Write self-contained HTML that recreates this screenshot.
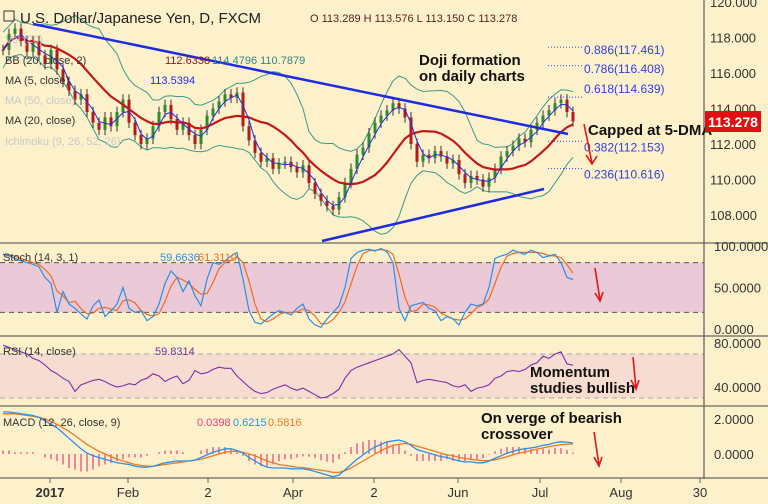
<!DOCTYPE html>
<html><head><meta charset="utf-8">
<style>
body{margin:0;background:#fff;}
svg{display:block;font-family:"Liberation Sans",sans-serif;}
</style></head><body>
<svg id="c" width="768" height="504" viewBox="0 0 768 504" xmlns="http://www.w3.org/2000/svg">
<rect x="0" y="0" width="768" height="504" fill="#fdf1cb"/>
<g id="bands"></g>
<g id="grid"></g>
<g id="marks"></g>
<g id="ann"></g>
</svg>
<script>
const closes=[117.3,118.2,118.5,117.8,117.2,117.8,117.0,116.5,117.3,116.2,
115.5,115.0,114.5,114.8,113.8,113.2,112.8,113.5,113.0,113.8,
114.5,113.2,112.5,112.0,112.3,113.0,113.8,114.2,113.4,112.8,
113.2,112.5,112.0,112.8,113.6,114.0,114.4,114.8,114.6,114.9,
113.0,112.2,111.5,111.0,111.2,110.6,110.9,111.0,110.7,110.4,
110.8,109.8,109.2,108.8,108.5,108.3,109.0,109.8,110.6,111.4,
111.8,112.6,113.2,113.6,113.9,114.3,114.0,113.5,112.0,111.0,
111.4,111.2,111.6,111.3,110.9,111.1,110.3,109.8,110.2,110.0,
109.6,110.1,110.6,111.3,111.6,111.9,112.3,112.1,112.8,113.2,
113.6,113.9,114.3,114.5,113.8,113.278];
const stochK=[90,88,85,82,80,78,75,62,55,20,45,30,25,18,12,28,35,15,22,30,
50,25,20,22,10,15,30,55,70,62,45,58,40,28,60,80,78,82,88,92,
60,22,8,6,12,18,22,20,17,25,30,12,5,2,12,20,28,50,85,92,
95,96,94,97,93,80,25,10,28,30,32,25,22,10,15,12,5,20,30,28,
30,50,85,88,90,95,92,90,95,92,86,88,90,80,62,59.66];
const rsi=[78,76,74,72,70,66,64,60,55,52,48,45,36,42,44,46,47,45,42,40,
41,43,42,46,48,52,50,45,48,50,43,46,55,52,53,56,58,57,57,50,
45,40,36,34,35,38,40,42,39,37,39,36,33,30,31,34,38,48,55,58,
60,62,64,66,68,70,74,68,62,44,46,47,46,45,44,41,40,42,36,39,
40,42,48,50,54,55,54,56,60,62,68,66,70,72,61,59.83];
const macd=[2.4,2.4,2.35,2.3,2.25,2.2,2.1,1.9,1.7,1.5,1.2,0.9,0.6,0.3,0.05,-0.1,-0.2,-0.3,-0.4,-0.5,
-0.55,-0.6,-0.7,-0.75,-0.75,-0.7,-0.6,-0.5,-0.45,-0.4,-0.4,-0.4,-0.35,-0.2,-0.05,0.1,0.2,0.3,0.3,0.2,
0.05,-0.2,-0.4,-0.6,-0.75,-0.8,-0.8,-0.8,-0.85,-0.85,-0.85,-0.9,-1.0,-1.1,-1.2,-1.3,-1.2,-0.9,-0.6,-0.3,
-0.05,0.2,0.4,0.55,0.7,0.75,0.8,0.7,0.5,0.25,0.15,0.05,-0.05,-0.15,-0.2,-0.3,-0.4,-0.45,-0.45,-0.5,
-0.5,-0.4,-0.25,-0.1,0.05,0.15,0.25,0.3,0.35,0.4,0.5,0.55,0.65,0.7,0.68,0.62];
const signal=[2.3,2.3,2.3,2.25,2.2,2.15,2.1,2.0,1.85,1.7,1.5,1.3,1.05,0.8,0.55,0.35,0.15,0.0,-0.15,-0.3,
-0.4,-0.5,-0.6,-0.65,-0.7,-0.7,-0.65,-0.6,-0.55,-0.5,-0.45,-0.4,-0.35,-0.3,-0.2,-0.1,0.0,0.1,0.15,0.15,
0.1,0.0,-0.1,-0.25,-0.4,-0.5,-0.6,-0.65,-0.7,-0.75,-0.78,-0.82,-0.88,-0.92,-0.98,-1.05,-1.05,-0.95,-0.8,-0.6,
-0.4,-0.2,0.0,0.2,0.35,0.5,0.55,0.6,0.55,0.45,0.35,0.25,0.15,0.05,-0.05,-0.1,-0.2,-0.25,-0.3,-0.35,
-0.38,-0.38,-0.33,-0.25,-0.15,-0.05,0.05,0.12,0.2,0.28,0.35,0.42,0.48,0.53,0.56,0.58];
const priceTicks=[120,118,116,114,112,110,108];
const dateLabels=["2017","Feb","2","Apr","2","Jun","Jul","Aug","30"];
const dateIdx=[7.83,20.83,34.17,48.33,61.83,75.83,89.5,103,116.17];
const fibLevels=[117.461,116.408,114.639,112.153,110.616];
const fibNames=["0.886","0.786","0.618","0.382","0.236"];

const NS="http://www.w3.org/2000/svg";
const X=i=>3+6*i;
const YP=p=>2+(120-p)*17.75;
const YS=v=>329-v*0.83;
const YR=v=>343+(80-v)*1.1;
const YM=v=>454-v*17.5;
function mk(parent,tag,attrs,text){const e=document.createElementNS(NS,tag);for(const k in attrs)e.setAttribute(k,attrs[k]);if(text!==undefined)e.textContent=text;document.getElementById(parent).appendChild(e);return e;}
function poly(arr,fy){return arr.map((v,i)=>X(i).toFixed(1)+","+fy(v).toFixed(1)).join(" ");}

// bands and pane separators
let e;
e=mk('bands','rect',{x:0,y:YS(80),width:704,height:YS(20)-YS(80),fill:'#ecc9d6'});


e=mk('bands','rect',{x:0,y:YR(70),width:704,height:YR(30)-YR(70),fill:'#f7dcd2'});


[[80,YS],[20,YS]].forEach(([v,f])=>{e=mk('bands','line',{x1:0,x2:704,y1:f(v),y2:f(v),stroke:'#555',"stroke-dasharray":"5,4"});

});
[[70,YR],[30,YR]].forEach(([v,f])=>{e=mk('bands','line',{x1:0,x2:704,y1:f(v),y2:f(v),stroke:'#aaa',"stroke-dasharray":"5,4"});

});
[243,336,406,478].forEach(y=>{e=mk('grid','line',{x1:0,x2:768,y1:y,y2:y,stroke:'#666','stroke-width':1.3});

});
e=mk('grid','line',{x1:704,x2:704,y1:0,y2:504,stroke:'#666','stroke-width':1.3});


e=mk('grid','rect',{x:0,y:479,width:768,height:25,fill:'#fdf1cb'});



// axis labels
priceTicks.forEach(p=>{e=mk('grid','text',{x:710,y:YP(p)+5,'font-size':13,fill:'#333'},p.toFixed(3));

});
[[100,YS],[50,YS],[0,YS],[80,YR],[40,YR],[2,YM],[0,YM]].forEach(([v,f])=>{e=mk('grid','text',{x:714,y:f(v)+5,'font-size':13,fill:'#333'},v.toFixed(4));

});
dateLabels.forEach((l,k)=>{const x=X(dateIdx[k]);
e=mk('grid','line',{x1:x,x2:x,y1:478,y2:483,stroke:'#666'});


e=mk('grid','text',{x:x,y:497,'font-size':13,fill:'#333','text-anchor':'middle','font-weight':k==0?'bold':'normal'},l);

});

// indicators on price
function sma(a,n,i){let s=0,c=0;for(let j=Math.max(0,i-n+1);j<=i;j++){s+=a[j];c++;}return s/c;}
const ma20=closes.map((v,i)=>sma(closes,12,i));
const ma5=closes.map((v,i)=>sma(closes,3,i));
const bbU=[],bbL=[];
closes.forEach((v,i)=>{const m=ma20[i];let s=0,c=0;for(let j=Math.max(0,i-11);j<=i;j++){s+=(closes[j]-m)**2;c++;}const sd=Math.sqrt(s/c)||0.5;bbU.push(m+2*sd);bbL.push(m-2*sd);});
e=mk('marks','polyline',{points:poly(bbU,YP),fill:'none',stroke:'#3a9a8a','stroke-width':1});


e=mk('marks','polyline',{points:poly(bbL,YP),fill:'none',stroke:'#3a9a8a','stroke-width':1});


closes.forEach((c,i)=>{const o=i?closes[i-1]:c;const up=c>=o;const col=up?'#2e8b2e':'#b01c1c';
const hi=Math.max(o,c)+0.3,lo=Math.min(o,c)-0.3;
e=mk('marks','line',{x1:X(i),x2:X(i),y1:YP(hi),y2:YP(lo),stroke:'#333','stroke-width':1});


e=mk('marks','rect',{x:X(i)-1.5,y:YP(Math.max(o,c)),width:3,height:Math.max(1,Math.abs(YP(o)-YP(c))),fill:col});

});
e=mk('marks','polyline',{points:poly(ma20,YP),fill:'none',stroke:'#c41818','stroke-width':2.2});


e=mk('marks','polyline',{points:poly(ma5,YP),fill:'none',stroke:'#2030e0','stroke-width':1});



// stoch
const stochD=stochK.map((v,i)=>sma(stochK,3,i));
e=mk('marks','polyline',{points:poly(stochD,YS),fill:'none',stroke:'#f06c20','stroke-width':1.2});


e=mk('marks','polyline',{points:poly(stochK,YS),fill:'none',stroke:'#2a8fe8','stroke-width':1.2});


// rsi
e=mk('marks','polyline',{points:poly(rsi,YR),fill:'none',stroke:'#7b2fa8','stroke-width':1.1});


// macd
macd.forEach((m,i)=>{const h=(m-signal[i])*2;
e=mk('marks','line',{x1:X(i),x2:X(i),y1:YM(0),y2:YM(h),stroke:'#e8407a','stroke-width':1.2});

});
e=mk('marks','polyline',{points:poly(signal,YM),fill:'none',stroke:'#f07a20','stroke-width':1.3});


e=mk('marks','polyline',{points:poly(macd,YM),fill:'none',stroke:'#2a8fe8','stroke-width':1.3});



// fib
fibLevels.forEach((f,k)=>{const y=YP(f);
e=mk('ann','line',{x1:548,x2:582,y1:y,y2:y,stroke:'#3040e0','stroke-dasharray':'1,2'});


e=mk('ann','text',{x:584,y:y+(k==2?-4:k<2?7:10),'font-size':12,fill:'#3040e0'},fibNames[k]+"("+f.toFixed(3)+")");

});
</script>
<svg width="0" height="0"></svg>
<script>
const A=document.getElementById('ann');
A.insertAdjacentHTML('beforeend',`
<line x1="33" y1="24" x2="568" y2="134" stroke="#1f2be0" stroke-width="2.5"/>
<line x1="322" y1="241" x2="544" y2="189" stroke="#1f2be0" stroke-width="2.5"/>
<text x="20" y="23" font-size="15" fill="#222">U.S. Dollar/Japanese Yen, D, FXCM</text>
<rect x="4" y="11" width="10" height="10" fill="none" stroke="#333"/>
<text x="310" y="22" font-size="11" fill="#5a2020">O 113.289  H 113.576  L 113.150  C 113.278</text>
<text x="5" y="43" font-size="11" fill="#c8c8c8">Vol (20)</text>
<text x="5" y="64" font-size="11" fill="#333">BB (20, close, 2)</text>
<text x="165" y="64" font-size="11" fill="#8b1a1a">112.6338</text>
<text x="212" y="64" font-size="11" fill="#2e8a80">114.4796 110.7879</text>
<text x="5" y="84" font-size="11" fill="#333">MA (5, close)</text>
<text x="150" y="84" font-size="11" fill="#2030e0">113.5394</text>
<text x="5" y="104" font-size="11" fill="#c8c8c8">MA (50, close)</text>
<text x="5" y="124" font-size="11" fill="#333">MA (20, close)</text>
<text x="5" y="145" font-size="11" fill="#c8c8c8">Ichimoku (9, 26, 52, 26)</text>
<text x="3" y="261" font-size="11" fill="#333">Stoch (14, 3, 1)</text>
<text x="160" y="261" font-size="11" fill="#2a8fe8">59.6636</text>
<text x="198" y="261" font-size="11" fill="#f06c20">61.3110</text>
<text x="3" y="355" font-size="11" fill="#333">RSI (14, close)</text>
<text x="155" y="355" font-size="11" fill="#7b2fa8">59.8314</text>
<text x="3" y="426" font-size="11" fill="#333">MACD (12, 26, close, 9)</text>
<text x="197" y="426" font-size="11" fill="#e8407a">0.0398</text>
<text x="233" y="426" font-size="11" fill="#2a8fe8">0.6215</text>
<text x="268" y="426" font-size="11" fill="#f07a20">0.5816</text>
<g font-weight="bold" font-size="15" fill="#111">
<text x="419" y="65">Doji formation</text>
<text x="419" y="81">on daily charts</text>
<text x="588" y="135">Capped at 5-DMA</text>
<text x="530" y="377">Momentum</text>
<text x="530" y="393">studies bullish</text>
<text x="481" y="423">On verge of bearish</text>
<text x="481" y="439">crossover</text>
</g>
<rect x="705" y="111" width="56" height="21" fill="#e01010"/>
<text x="733" y="127" font-size="14" font-weight="bold" fill="#fff" text-anchor="middle">113.278</text>
<g stroke="#e01818" stroke-width="1.6" fill="none">
<path d="M584 124 L592 163 M586 155 L592 164 L597 156"/>
<path d="M595 268 L600 300 M595 293 L600 301 L603 292"/>
<path d="M633 357 L636 388 M631 380 L636 389 L639 380"/>
<path d="M594 432 L599 465 M594 457 L599 466 L602 457"/>
</g>`);
</script>
</body></html>
